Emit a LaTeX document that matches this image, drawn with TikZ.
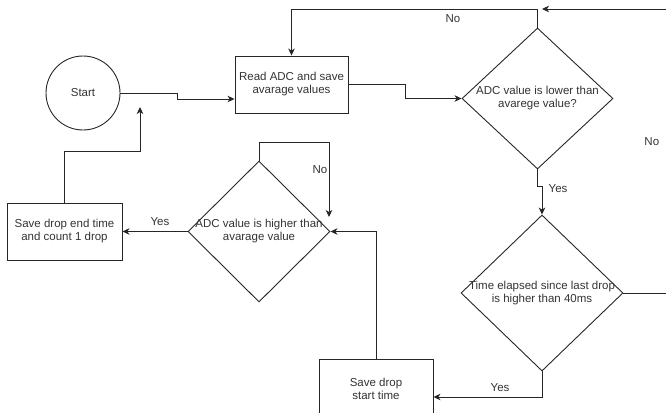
\documentclass[tikz,border=0pt]{standalone}
\usepackage{fontspec}
\setmainfont{Liberation Sans}
\usetikzlibrary{shapes.geometric,arrows.meta}
\begin{document}
\begin{tikzpicture}[x=1pt,y=-1pt,
  line width=0.9pt,
  every node/.style={font=\fontsize{11.5}{13}\selectfont, text=black!80},
  boxnode/.style={draw=black!85, rectangle, inner sep=0pt, align=center},
  dianode/.style={draw=black!85, diamond, inner sep=0pt},
  txt/.style={align=center, inner sep=0pt},
  lbl/.style={inner sep=0pt},
  arr/.style={draw=black!85, -{Stealth[length=7pt,width=6.5pt,inset=2pt]}},
  conn/.style={draw=black!85}]
\useasboundingbox (0,0) rectangle (666,412);
\clip (0,0) rectangle (666,412);

% nodes
\node[draw=black!85, circle, minimum size=74pt, inner sep=0pt] (start) at (83,93) {Start};
\node[boxnode, minimum width=113pt, minimum height=57pt] (box1) at (291.5,84.5) {Read ADC and save\\avarage values};
\node[dianode, minimum width=151pt, minimum height=141pt] (d1) at (537.5,98.5) {};
\node[txt] (d1t) at (d1) {ADC value is lower than\\avarege value?};
\node[dianode, minimum width=162pt, minimum height=156pt] (d2) at (542,293) {};
\node[txt] (d2t) at (d2) {Time elapsed since last drop\\is higher than 40ms};
\node[boxnode, minimum width=114pt, minimum height=60pt] (box3) at (376,389) {Save drop\\start time};
\node[dianode, minimum width=142pt, minimum height=141pt] (d3) at (259,231.5) {};
\node[txt] (d3t) at (d3) {ADC value is higher than\\avarage value};
\node[boxnode, minimum width=115pt, minimum height=57pt] (box2) at (64.5,231.5) {Save drop end time\\and count 1 drop};

% free-end coordinates
\coordinate (jn) at (542,9);
\coordinate (d3no) at (329,217);
\coordinate (up) at (140,107);

% connectors
\draw[arr] (start.east) -- (177,93) -- (177,99) -- ([yshift=-14.5pt]box1.west);
\draw[arr] (box1.east) -- (405,84.5) -- (405,98.5) -- (d1.west);
\draw[arr] (d1.north) -- (537.5,9) -| (box1.north);
\node[lbl] (lno1) at (453,19) {No};
\draw[arr] (d1.south) -- (537.5,186) -- (542,186) -- (d2.north);
\node[lbl] (lyes1) at (558,189) {Yes};
\draw[arr] (d2.east) -- (700,293) -- (700,9) -- (jn);
\node[lbl, anchor=west] (lno2) at (644,142) {No};
\draw[arr] (d2.south) -- (542,397) -- ([yshift=-8pt]box3.east);
\node[lbl] (lyes2) at (500,388) {Yes};
\draw[arr] (box3.north) |- (d3.east);
\draw[arr] (d3.north) -- (259,142) -- (329,142) -- (d3no);
\node[lbl] (lno3) at (320,170) {No};
\draw[arr] (d3.west) -- (box2.east);
\node[lbl] (lyes3) at (160,222) {Yes};
\draw[arr] (box2.north) -- (64.5,151) -- (140,151) -- (up);
\end{tikzpicture}
\end{document}
